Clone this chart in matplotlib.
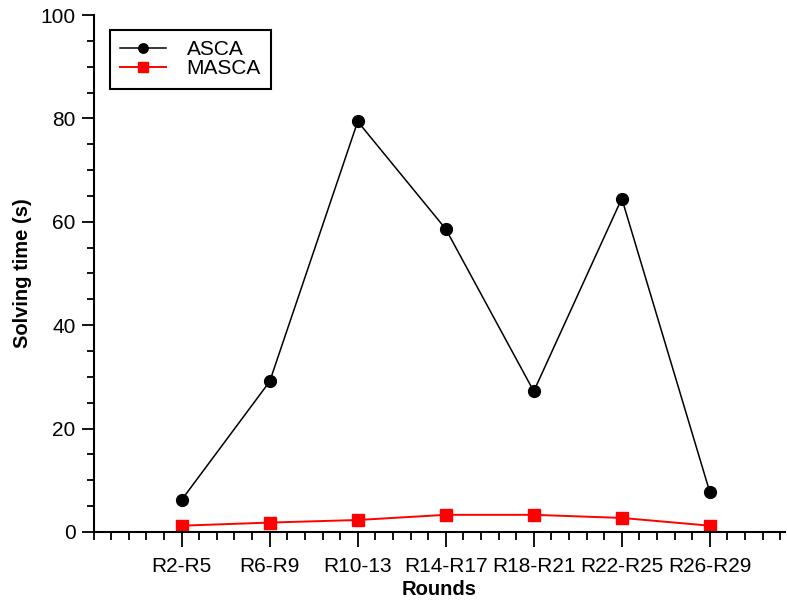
import matplotlib.pyplot as plt
from matplotlib.ticker import MultipleLocator

plt.rcParams['font.family'] = ['Liberation Sans', 'DejaVu Sans']

rounds = ['R2-R5', 'R6-R9', 'R10-13', 'R14-R17', 'R18-R21', 'R22-R25', 'R26-R29']
asca = [6.2, 29.1, 79.4, 58.6, 27.2, 64.5, 7.7]
masca = [1.2, 1.8, 2.3, 3.3, 3.3, 2.7, 1.2]

x = list(range(1, len(rounds) + 1))

fig = plt.figure(figsize=(7.87, 6.01), dpi=100)
ax = fig.add_axes([0.119, 0.115, 0.878, 0.86])

ax.plot(x, asca, c='black', marker='o', markersize=8.5, linewidth=1.1, label='ASCA')
ax.plot(x, masca, c='red', marker='s', markersize=9, linewidth=1.4, label='MASCA')

ax.set_xlim(0, 7.85)
ax.set_ylim(0, 100)
ax.set_xticks(x)
ax.set_xticklabels(rounds)
ax.xaxis.set_minor_locator(MultipleLocator(0.2))
ax.yaxis.set_major_locator(MultipleLocator(20))
ax.yaxis.set_minor_locator(MultipleLocator(5))

for s in ['top', 'right']:
    ax.spines[s].set_visible(False)
for s in ['left', 'bottom']:
    ax.spines[s].set_linewidth(1.5)

ax.tick_params(axis='x', which='major', length=11, width=1.3, labelsize=15, pad=7, direction='out')
ax.tick_params(axis='x', which='minor', length=6, width=1.3, direction='out')
ax.tick_params(axis='y', which='major', length=9, width=1.3, labelsize=15, pad=4, direction='out')
ax.tick_params(axis='y', which='minor', length=5, width=1.3, direction='out')

ax.set_xlabel('Rounds', fontsize=14.5, fontweight='bold', labelpad=3)
ax.set_ylabel('Solving time (s)', fontsize=14.5, fontweight='bold', labelpad=6)

leg = ax.legend(loc='upper left', bbox_to_anchor=(0.023, 0.971), borderaxespad=0, fontsize=15,
                fancybox=False, edgecolor='black', framealpha=1, handlelength=2.2, borderpad=0.5,
                labelspacing=0.0, handletextpad=1.0, markerscale=0.8)
leg.get_frame().set_linewidth(1.5)

plt.savefig('out.png', dpi=100)
